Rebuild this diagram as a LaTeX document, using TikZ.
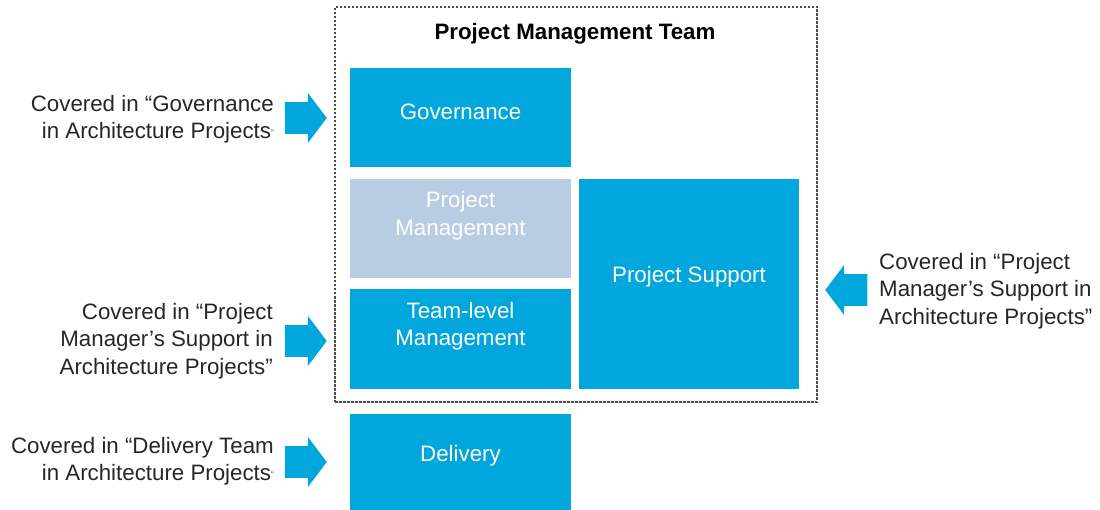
\documentclass[tikz,border=0pt]{standalone}
\usepackage{fontspec}
\setmainfont{Liberation Sans}
\usetikzlibrary{shapes.arrows}
\definecolor{pmblue}{RGB}{0,166,220}
\definecolor{pmlight}{RGB}{184,204,228}
\definecolor{pmtext}{RGB}{38,38,38}
\tikzset{
  box/.style={fill=pmblue, minimum width=221pt, minimum height=99pt, inner sep=0pt},
  boxtext/.style={text=white, align=center, inner sep=0pt},
  note/.style={text=pmtext, inner sep=0pt},
  pointer/.style={single arrow, fill=pmblue, inner xsep=0pt, inner ysep=12pt,
    minimum width=50pt, minimum height=42pt, single arrow tip angle=106},
  frame/.style={draw=black!70, line width=1.3pt, dash pattern=on 2.5pt off 1.5pt,
    minimum width=482pt, minimum height=395pt}
}
\newcommand{\smallq}{\raisebox{3pt}{\fontsize{8}{8}\selectfont ”}}
\begin{document}
\begin{tikzpicture}[x=1pt, y=-1pt, font=\fontsize{22.3}{27.5}\selectfont]
\useasboundingbox (0,0) rectangle (1100,510);
\node[frame] (team) at (576,204.5) {};
\node[font=\fontsize{22.3}{27.5}\selectfont\bfseries] (title) at (575,34) {Project Management Team};
% boxes
\node[box] (gov) at (460.5,117.5) {};
\node[box, fill=pmlight] (pm) at (460.5,228.5) {};
\node[box] (tlm) at (460.5,339) {};
\node[box, minimum width=220pt, minimum height=210pt] (ps) at (689,284) {};
\node[box, minimum height=96pt] (del) at (460.5,462) {};
\node[boxtext] at ([yshift=6]gov.center) {Governance};
\node[boxtext] at ([yshift=13]pm.center) {Project\\Management};
\node[boxtext] at ([yshift=13]tlm.center) {Team-level\\Management};
\node[boxtext] at ([yshift=7]ps.center) {Project Support};
\node[boxtext] at ([yshift=6]del.center) {Delivery};
% arrows
\node[pointer, anchor=tip] (govarrow) at (327,118) {};
\node[pointer, anchor=tip] (tlmarrow) at (327,341) {};
\node[pointer, anchor=tip] (delarrow) at (327,462) {};
\node[pointer, anchor=tip, shape border rotate=180] (psarrow) at (825,290) {};
% notes
\node[note, anchor=east, align=right] (govnote) at (274,119)
  {Covered in “Governance\\in Architecture Projects\smallq};
\node[note, anchor=east, align=right] (tlmnote) at (273,341)
  {Covered in “Project\\Manager’s Support in\\Architecture Projects"};
\node[note, anchor=east, align=right] (delnote) at (274,461)
  {Covered in “Delivery Team\\in Architecture Projects\smallq};
\node[note, anchor=west, align=left] (psnote) at (879,291)
  {Covered in “Project\\Manager’s Support in\\Architecture Projects”};
\end{tikzpicture}
\end{document}
